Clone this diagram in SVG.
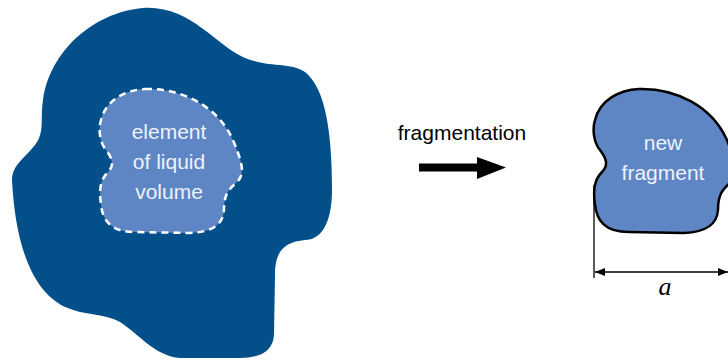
<svg xmlns="http://www.w3.org/2000/svg" xmlns:xlink="http://www.w3.org/1999/xlink" width="728" height="360" viewBox="0 0 728 360">
<style>
.lbl{font-family:"Liberation Sans",Arial,sans-serif;font-size:21px;text-anchor:middle}
.in{fill:#eef2fa}
.dim{stroke:#000;stroke-width:1.3;fill:none}
</style>
<defs>
<path id="drop" d="M 145 89 C 180 88, 220 105, 235 145 C 243 165, 245 175, 236 183 C 228 190, 224 195, 224 210 C 223 225, 212 232, 190 233 L 135 232 C 110 232, 103 220, 101 205 C 99 190, 100 180, 108 172 C 115 165, 112 158, 106 150 C 100 143, 98 130, 101 120 C 106 100, 125 90, 145 89 Z"/>
<marker id="ah" viewBox="0 0 10 10" refX="10" refY="5" markerWidth="10" markerHeight="10" markerUnits="userSpaceOnUse" orient="auto-start-reverse">
<path d="M0,1 L10,5 L0,9 Z" fill="#000"/>
</marker>
</defs>
<g id="liquid">
<path d="M 143 8 C 190 5, 215 45, 245 58 C 270 68, 290 62, 305 72 C 325 88, 332 130, 332 190 C 332 225, 320 240, 305 240 C 285 242, 275 250, 275 275 L 274 335 C 273 350, 262 358, 240 358 L 180 358 C 155 356, 140 335, 120 322 C 105 313, 85 316, 65 307 C 30 290, 15 240, 12 180 C 12 165, 25 158, 35 145 C 45 132, 40 120, 43 100 C 50 50, 95 12, 143 8 Z" fill="#034f8a"/>
</g>
<g id="element">
<use xlink:href="#drop" fill="#5e86c5" stroke="#fff" stroke-width="2.5" stroke-dasharray="7 5"/>
<text class="lbl in" x="169" y="139">element</text>
<text class="lbl in" x="169" y="169">of liquid</text>
<text class="lbl in" x="169" y="199">volume</text>
</g>
<g id="arrow">
<text class="lbl" x="462" y="140" fill="#000">fragmentation</text>
<rect x="419" y="163.5" width="59" height="8" fill="#000"/>
<path d="M 477 157 L 506 167.5 L 477 179 Z" fill="#000"/>
</g>
<g id="fragment">
<use xlink:href="#drop" transform="translate(494,0)" fill="#5e86c5" stroke="#000" stroke-width="2.5"/>
<text class="lbl in" x="663" y="150">new</text>
<text class="lbl in" x="663" y="180">fragment</text>
</g>
<g id="connectors">
<line class="dim" x1="594" y1="185" x2="594" y2="278"/>
<line class="dim" x1="595" y1="272" x2="728" y2="272" marker-start="url(#ah)" marker-end="url(#ah)"/>
<text x="665" y="295" font-family="Liberation Serif,serif" font-style="italic" font-size="26" text-anchor="middle">a</text>
</g>
</svg>
